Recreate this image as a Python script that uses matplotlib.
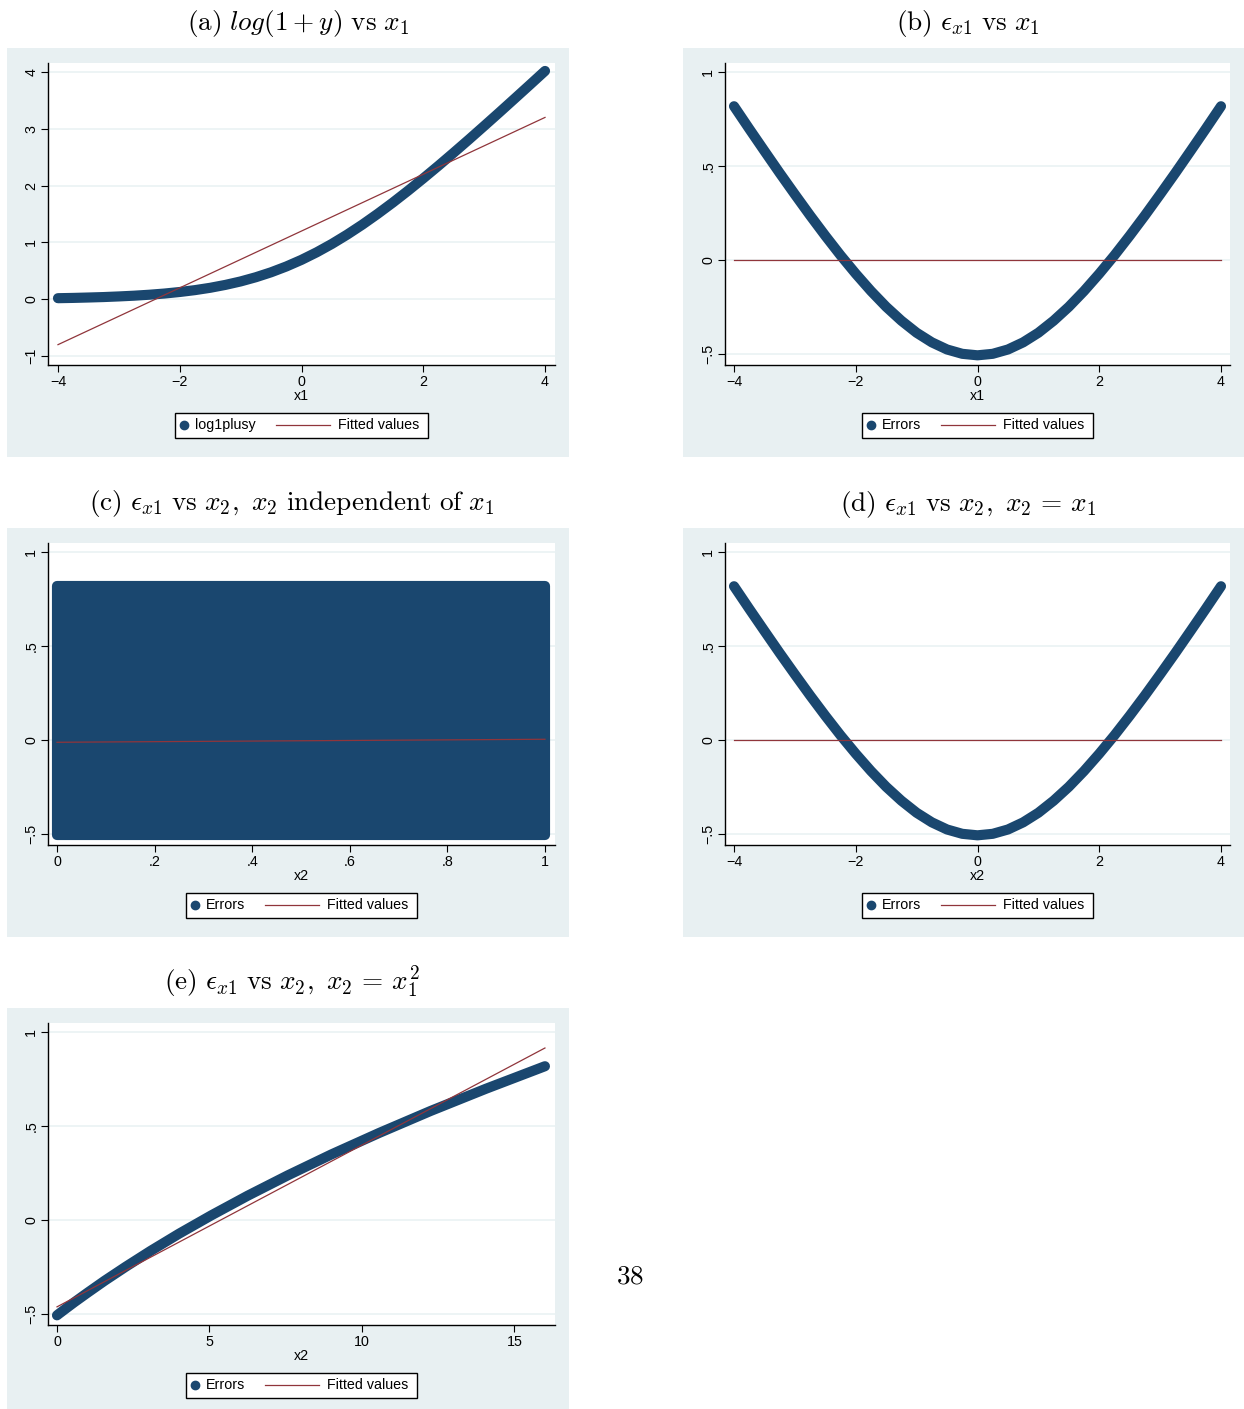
import matplotlib
matplotlib.use("Agg")
import matplotlib.pyplot as plt
from matplotlib.patches import Rectangle
from matplotlib.lines import Line2D

plt.rcParams["mathtext.fontset"] = "cm"
plt.rcParams["font.family"] = ["Liberation Sans", "DejaVu Sans"]

# simulated data: x1 on a grid, y = exp(x1), regressed log(1+y) on x1
x1 = [-4.0, -3.75, -3.5, -3.25, -3.0, -2.75, -2.5, -2.25, -2.0, -1.75, -1.5,
      -1.25, -1.0, -0.75, -0.5, -0.25, 0.0, 0.25, 0.5, 0.75, 1.0, 1.25, 1.5,
      1.75, 2.0, 2.25, 2.5, 2.75, 3.0, 3.25, 3.5, 3.75, 4.0]
log1plusy = [0.018, 0.023, 0.030, 0.038, 0.049, 0.062, 0.079, 0.100, 0.127,
             0.160, 0.201, 0.252, 0.313, 0.387, 0.474, 0.576, 0.693, 0.826,
             0.974, 1.137, 1.313, 1.502, 1.701, 1.910, 2.127, 2.350, 2.579,
             2.812, 3.049, 3.288, 3.530, 3.773, 4.018]
errors = [0.818, 0.698, 0.580, 0.463, 0.349, 0.237, 0.129, 0.025, -0.073,
          -0.165, -0.249, -0.323, -0.387, -0.438, -0.476, -0.499, -0.507,
          -0.499, -0.476, -0.438, -0.387, -0.323, -0.249, -0.165, -0.073,
          0.025, 0.129, 0.237, 0.349, 0.463, 0.580, 0.698, 0.818]

fit_a_x = [-4.0, 4.0]
fit_a_y = [-0.80, 3.20]
fit_b_y = [0.0, 0.0]
x2_unif = [0.0, 1.0]
fit_c_y = [-0.012, 0.004]
fit_e_x = [0.0, 16.0]
fit_e_y = [-0.462, 0.915]

ticks_a_y = [-1, 0, 1, 2, 3, 4]
labels_a_y = ["\u22121", "0", "1", "2", "3", "4"]
ticks_x1 = [-4, -2, 0, 2, 4]
labels_x1 = ["\u22124", "\u22122", "0", "2", "4"]
ticks_err = [-0.5, 0, 0.5, 1]
labels_err = ["\u2212.5", "0", ".5", "1"]
ticks_c_x = [0, 0.2, 0.4, 0.6, 0.8, 1]
labels_c_x = ["0", ".2", ".4", ".6", ".8", "1"]
ticks_e_x = [0, 5, 10, 15]
labels_e_x = ["0", "5", "10", "15"]

W, H = 1244, 1409
BG = "#E8F0F2"
GRID = "#EAF2F3"
NAVY = "#1A476F"
MAROON = "#90353B"
FS = 10.3
TS = 19.6
MARK_LW = 7.3

fig = plt.figure(figsize=(W / 100, H / 100), dpi=100)
fig.patch.set_facecolor("white")
renderer = fig.canvas.get_renderer()


def fx(x):
    return x / W


def fy(y):
    return 1 - y / H


def panel(gray, box, xlim, ylim, xt, xtl, yt, ytl):
    gx0, gy0, gx1, gy1 = gray
    fig.patches.append(Rectangle((fx(gx0), fy(gy1)), (gx1 - gx0) / W,
                                 (gy1 - gy0) / H, transform=fig.transFigure,
                                 facecolor=BG, edgecolor="none", zorder=-5))
    px0, py0, px1, py1 = box
    ax = fig.add_axes([fx(px0), fy(py1), (px1 - px0) / W, (py1 - py0) / H])
    ax.set_zorder(1)
    ax.set_facecolor("white")
    ax.set_xlim(xlim)
    ax.set_ylim(ylim)
    ax.set_xticks(xt)
    ax.set_xticklabels(xtl)
    ax.set_yticks(yt)
    ax.set_yticklabels(ytl, rotation=90, va="center")
    for s in ("top", "right"):
        ax.spines[s].set_visible(False)
    for s in ("left", "bottom"):
        ax.spines[s].set_linewidth(1.0)
    ax.tick_params(direction="out", length=5, width=0.8, labelsize=FS, pad=2)
    ax.yaxis.grid(True, color=GRID, lw=1.2)
    ax.set_axisbelow(True)
    return ax


def axis_title(box, text):
    px0, py0, px1, py1 = box
    fig.text(fx((px0 + px1) / 2), fy(py1 + 31), text, ha="center",
             va="center", fontsize=FS)


def legend(box, label):
    px0, py0, px1, py1 = box
    cx = (px0 + px1) / 2
    cy = py1 + 60
    t1 = fig.text(0, 0, label, fontsize=FS, va="center", ha="left", zorder=4)
    t2 = fig.text(0, 0, "Fitted values", fontsize=FS, va="center", ha="left",
                  zorder=4)
    w1 = t1.get_window_extent(renderer).width
    w2 = t2.get_window_extent(renderer).width
    total = 9 + 11 + w1 + 20 + 54 + 8 + w2 + 9
    left = cx - total / 2
    fig.patches.append(Rectangle((fx(left), fy(cy + 12.5)), total / W, 25 / H,
                                 transform=fig.transFigure, facecolor="white",
                                 edgecolor="black", lw=1.0, zorder=2))
    fig.lines.append(Line2D([fx(left + 9)], [fy(cy)], marker="o", ms=6,
                            color=NAVY, transform=fig.transFigure, zorder=3))
    t1.set_position((fx(left + 20), fy(cy)))
    x_line = left + 20 + w1 + 20
    fig.lines.append(Line2D([fx(x_line), fx(x_line + 54)], [fy(cy), fy(cy)],
                            color=MAROON, lw=0.9, transform=fig.transFigure,
                            zorder=3))
    t2.set_position((fx(x_line + 62), fy(cy)))


def curve(ax, x, y):
    ax.plot(x, y, color=NAVY, lw=MARK_LW, solid_capstyle="round",
            solid_joinstyle="round", zorder=3)


def fitted(ax, x, y):
    ax.plot(x, y, color=MAROON, lw=0.9, zorder=4)


# (a) log(1+y) vs x1
box_a = (48, 63, 555, 365)
ax = panel((7, 48, 569, 457), box_a, (-4.164, 4.164), (-1.158, 4.158),
           ticks_x1, labels_x1, ticks_a_y, labels_a_y)
curve(ax, x1, log1plusy)
fitted(ax, fit_a_x, fit_a_y)
axis_title(box_a, "x1")
legend(box_a, "log1plusy")

# (b) errors vs x1
box_b = (725, 63, 1230, 365)
ax = panel((683, 48, 1244, 457), box_b, (-4.148, 4.148), (-0.5585, 1.048),
           ticks_x1, labels_x1, ticks_err, labels_err)
curve(ax, x1, errors)
fitted(ax, fit_a_x, fit_b_y)
axis_title(box_b, "x1")
legend(box_b, "Errors")

# (c) errors vs an independent uniform x2: the cloud fills the whole band
box_c = (48, 543, 555, 845)
ax = panel((7, 528, 569, 937), box_c, (-0.0184, 1.0205), (-0.5585, 1.048),
           ticks_c_x, labels_c_x, ticks_err, labels_err)
band = ax.fill_between(x2_unif, min(errors), max(errors), facecolor=NAVY,
                       edgecolor=NAVY, lw=MARK_LW, zorder=3)
band.set_joinstyle("round")
fitted(ax, x2_unif, fit_c_y)
axis_title(box_c, "x2")
legend(box_c, "Errors")

# (d) errors vs x2 = x1
box_d = (725, 543, 1230, 845)
ax = panel((683, 528, 1244, 937), box_d, (-4.148, 4.148), (-0.5585, 1.048),
           ticks_x1, labels_x1, ticks_err, labels_err)
curve(ax, x1, errors)
fitted(ax, fit_a_x, fit_b_y)
axis_title(box_d, "x2")
legend(box_d, "Errors")

# (e) errors vs x2 = x1^2
box_e = (48, 1023, 555, 1325)
x2_sq = [v ** 2 for v in x1]
ax = panel((7, 1008, 569, 1409), box_e, (-0.295, 16.33), (-0.5585, 1.048),
           ticks_e_x, labels_e_x, ticks_err, labels_err)
order = sorted(range(len(x1)), key=lambda i: x2_sq[i])
curve(ax, [x2_sq[i] for i in order], [errors[i] for i in order])
fitted(ax, fit_e_x, fit_e_y)
axis_title(box_e, "x2")
legend(box_e, "Errors")

# captions and page number
titles = [
    (298, 30, r"$\mathrm{(a)}\ log(1+y)\ \mathrm{vs}\ x_1$"),
    (968, 30, r"$\mathrm{(b)}\ \epsilon_{x1}\ \mathrm{vs}\ x_1$"),
    (292, 510, r"$\mathrm{(c)}\ \epsilon_{x1}\ \mathrm{vs}\ x_2,\ x_2\ \mathrm{independent\ of}\ x_1$"),
    (968, 511, r"$\mathrm{(d)}\ \epsilon_{x1}\ \mathrm{vs}\ x_2,\ x_2\,=\,x_1$"),
    (292, 990, r"$\mathrm{(e)}\ \epsilon_{x1}\ \mathrm{vs}\ x_2,\ x_2\,=\,x_1^2$"),
]
for x, y, t in titles:
    fig.text(fx(x), fy(y), t, ha="center", va="baseline", fontsize=TS)
fig.text(fx(630), fy(1284), r"$\mathrm{38}$", ha="center", va="baseline",
         fontsize=TS)

fig.savefig("out.png", dpi=100, facecolor="white")
